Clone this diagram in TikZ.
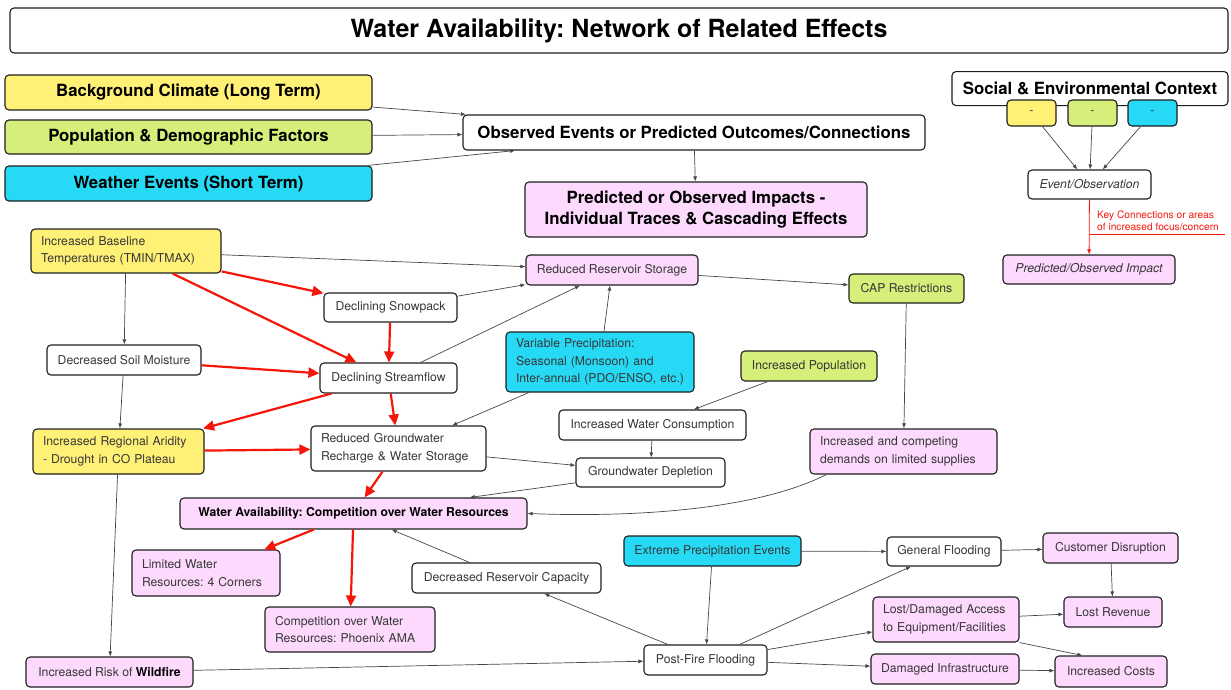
\documentclass[tikz,border=0pt]{standalone}
\usepackage{fontspec}
\setmainfont{TeX Gyre Heros}
\usepackage{tikz}
\usetikzlibrary{arrows.meta, positioning, calc}
\definecolor{myyellow}{RGB}{255,241,118}
\definecolor{mygreen}{RGB}{214,238,122}
\definecolor{mycyan}{RGB}{38,218,246}
\definecolor{mypink}{RGB}{253,218,253}
\definecolor{myred}{RGB}{245,22,10}
\definecolor{mydark}{RGB}{30,30,30}
\definecolor{mytext}{RGB}{55,55,55}
\definecolor{mygray}{RGB}{70,70,70}
\frenchspacing
\tikzset{
  box/.style={rectangle, draw=mydark, fill=white, rounded corners=4pt,
    line width=1.1pt, inner sep=3pt, text=mytext,
    font=\fontsize{12.2}{17.5}\selectfont},
  yelbox/.style={box, fill=myyellow},
  grnbox/.style={box, fill=mygreen},
  cynbox/.style={box, fill=mycyan},
  pnkbox/.style={box, fill=mypink},
  hdr/.style={text=black, font=\bfseries\fontsize{16.8}{21}\selectfont},
  sz/.style 2 args={minimum width=#1, minimum height=#2},
  multi/.style={align=left, inner xsep=10pt, text width=#1},
  arrow/.style={-{Latex[length=5pt,width=4pt]}, line width=0.7pt, color=mygray},
  redarrow/.style={-{Triangle[length=11pt,width=10pt]}, line width=2.2pt, color=myred},
  keyarrow/.style={-{Latex[length=5pt,width=4pt]}, line width=0.8pt, color=myred},
  keyline/.style={line width=0.8pt, color=myred}
}

\begin{document}
\begin{tikzpicture}[x=1pt, y=-1pt]
  \useasboundingbox (0,0) rectangle (1231,689);

  % title and legend
  \node[box, sz={1218pt}{45pt}, text=black, font=\bfseries\fontsize{25}{30}\selectfont] (title) at (619,30.5) {Water Availability: Network of Related Effects};
  \node[yelbox, hdr, sz={367pt}{35pt}] (bg) at (188.5,92.5) {Background Climate (Long Term)};
  \node[grnbox, hdr, sz={367pt}{34pt}] (pop) at (188.5,137) {Population \& Demographic Factors};
  \node[cynbox, hdr, sz={367pt}{35pt}] (wx) at (188.5,183.5) {Weather Events (Short Term)};
  \node[box, hdr, sz={462pt}{35pt}] (obs) at (694,132.5) {Observed Events or Predicted Outcomes/Connections};
  \node[pnkbox, hdr, sz={342pt}{55pt}, align=center] (imp) at (696,209.5) {Predicted or Observed Impacts -\\Individual Traces \& Cascading Effects};

  \draw[arrow] (bg) -- (obs);
  \draw[arrow] (pop) -- (obs);
  \draw[arrow] (wx) -- (obs);
  \draw[arrow] (obs) -- (imp);

  \node[box, hdr, sz={276pt}{34pt}, anchor=north] (ctx) at (1090,71) {Social \& Environmental Context};
  \node[yelbox, sz={49pt}{26pt}] (ky) at (1031.5,113) {-};
  \node[grnbox, sz={49pt}{26pt}] (kg) at (1092.5,113) {-};
  \node[cynbox, sz={49pt}{26pt}] (kc) at (1152.5,113) {-};
  \node[box, sz={123pt}{29pt}, font=\itshape\fontsize{12.2}{14.5}\selectfont] (ev) at (1089.5,184.5) {Event/Observation};
  \node[pnkbox, sz={172pt}{29pt}, font=\itshape\fontsize{12.2}{14.5}\selectfont] (pi) at (1089,269.5) {Predicted/Observed Impact};

  \draw[arrow] (ky) -- (ev);
  \draw[arrow] (kg) -- (ev);
  \draw[arrow] (kc) -- (ev);
  \draw[keyarrow] (ev) -- (pi);
  \coordinate (keyend) at (1225,234);
  \draw[keyline] (keyend -| ev.south) -- (keyend);
  \node[anchor=south west, align=left, text=myred, inner sep=1pt,
    font=\fontsize{10.2}{12.5}\selectfont] (keylbl) at (1096,232) {Key Connections or areas\\of increased focus/concern};

  % network
  \node[yelbox, multi=170pt, minimum height=44pt] (temp) at (126,251) {Increased Baseline\\Temperatures (TMIN/TMAX)};
  \node[pnkbox, sz={172pt}{30pt}] (res) at (612,270) {Reduced Reservoir Storage};
  \node[grnbox, sz={115pt}{29pt}] (cap) at (906.5,288.5) {CAP Restrictions};
  \node[box, sz={133pt}{29pt}] (snow) at (390.5,307.5) {Declining Snowpack};
  \node[box, sz={154pt}{30pt}] (soil) at (124,360) {Decreased Soil Moisture};
  \node[box, sz={137pt}{30pt}] (flow) at (388.5,378) {Declining Streamflow};
  \node[cynbox, multi=168pt, minimum height=60pt] (vprec) at (600,362) {Variable Precipitation:\\Seasonal (Monsoon) and\\Inter-annual (PDO/ENSO, etc.)};
  \node[grnbox, sz={136pt}{30pt}] (ipop) at (809,366) {Increased Population};
  \node[yelbox, multi=151pt, minimum height=45pt] (arid) at (118.5,451.5) {Increased Regional Aridity\\- Drought in CO Plateau};
  \node[box, multi=155pt, minimum height=45pt] (rgw) at (398.5,448.5) {Reduced Groundwater\\Recharge \& Water Storage};
  \node[box, sz={187pt}{30pt}] (cons) at (652.5,425) {Increased Water Consumption};
  \node[box, sz={149pt}{29pt}] (gwd) at (650.5,472.5) {Groundwater Depletion};
  \node[pnkbox, multi=167pt, minimum height=45pt] (dem) at (903.5,451.5) {Increased and competing\\demands on limited supplies};
  \node[pnkbox, sz={347pt}{31pt}, text=black, font=\bfseries\fontsize{12.2}{14.5}\selectfont] (wa) at (353.5,513.5) {Water Availability: Competition over Water Resources};
  \node[pnkbox, multi=128pt, minimum height=46pt] (lim) at (206,573) {Limited Water\\Resources: 4 Corners};
  \node[pnkbox, multi=150pt, minimum height=45pt] (phx) at (350,629.5) {Competition over Water\\Resources: Phoenix AMA};
  \node[box, sz={189pt}{30pt}] (drc) at (506.5,578) {Decreased Reservoir Capacity};
  \node[cynbox, sz={177pt}{30pt}] (xp) at (712.5,551) {Extreme Precipitation Events};
  \node[box, sz={114pt}{29pt}] (gf) at (944,551.5) {General Flooding};
  \node[pnkbox, sz={135pt}{30pt}] (cd) at (1110.5,548) {Customer Disruption};
  \node[pnkbox, multi=126pt, minimum height=45pt] (lda) at (946,619.5) {Lost/Damaged Access\\to Equipment/Facilities};
  \node[pnkbox, sz={98pt}{30pt}] (lr) at (1113,612) {Lost Revenue};
  \node[box, sz={123pt}{30pt}] (pff) at (705.5,660) {Post-Fire Flooding};
  \node[pnkbox, sz={148pt}{30pt}] (di) at (945,669) {Damaged Infrastructure};
  \node[pnkbox, sz={112pt}{31pt}] (ic) at (1111,671.5) {Increased Costs};
  \node[pnkbox, sz={167pt}{30pt}] (fire) at (109.5,672) {Increased Risk of \textbf{\color{black}Wildfire}};

  \draw[arrow] (temp) -- (res);
  \draw[arrow] (temp) -- (soil);
  \draw[arrow] (snow) -- (res);
  \draw[arrow] (flow) -- (res);
  \draw[arrow] (vprec) -- (res);
  \draw[arrow] (vprec) -- (rgw);
  \draw[arrow] (res) -- (cap);
  \draw[arrow] (cap) -- (dem);
  \draw[arrow] (ipop) -- (cons);
  \draw[arrow] (cons) -- (gwd);
  \draw[arrow] (rgw) -- (gwd);
  \draw[arrow] (gwd) -- (wa);
  \draw[arrow] ([xshift=17pt]dem.south west) .. controls +(-70,35) and +(110,4) .. (wa.east);
  \draw[arrow] (soil) -- (arid);
  \draw[arrow] (arid) -- (fire);
  \draw[arrow] (fire) -- (pff);
  \draw[arrow] (drc) -- (wa);
  \draw[arrow] (pff) -- (drc);
  \draw[arrow] (xp) -- (pff);
  \draw[arrow] (xp) -- (gf);
  \draw[arrow] (pff) -- (gf);
  \draw[arrow] (pff) -- (lda);
  \draw[arrow] (pff) -- (di);
  \draw[arrow] (gf) -- (cd);
  \draw[arrow] (cd) -- (lr);
  \draw[arrow] (lda) -- (lr);
  \draw[arrow] (lda.south east) -- ([xshift=28pt]ic.north west);
  \draw[arrow] (di) -- (ic);

  % key connections
  \draw[redarrow] (temp) -- (snow);
  \draw[redarrow] (temp) -- (flow);
  \draw[redarrow] (snow) -- (flow);
  \draw[redarrow] (soil) -- (flow);
  \draw[redarrow] (flow) -- (arid);
  \draw[redarrow] (flow) -- (rgw);
  \draw[redarrow] (arid) -- (rgw);
  \draw[redarrow] (rgw) -- (wa);
  \draw[redarrow] (wa) -- (lim);
  \draw[redarrow] (wa) -- (phx);
\end{tikzpicture}
\end{document}
